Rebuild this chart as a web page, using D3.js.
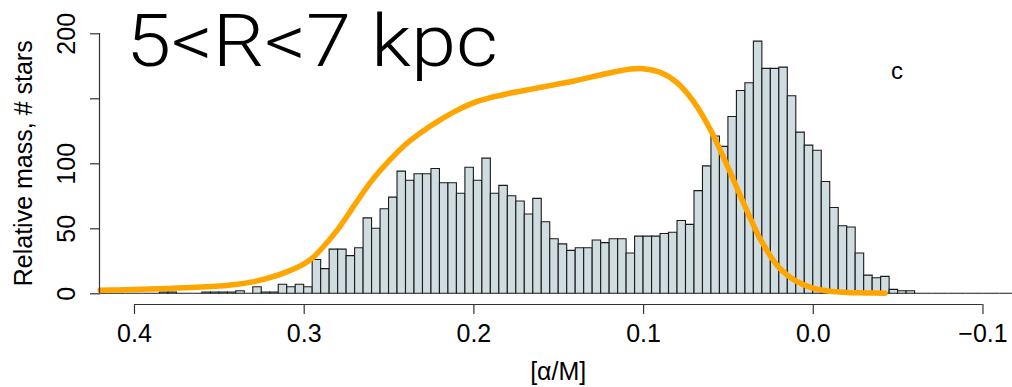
<!DOCTYPE html>
<html>
<head>
<meta charset="utf-8">
<script src="https://cdn.jsdelivr.net/npm/d3@7"></script>
<style>
  html, body { margin: 0; padding: 0; background: #fff; }
  svg { display: block; }
</style>
</head>
<body>
<svg id="chart" width="1012" height="387"></svg>
<script>
// Histogram of [alpha/M] for stars at 5<R<7 kpc, bins of 0.005 running from 0.42 down to -0.12
const binStart = 0.42;
const binWidth = 0.005;
const starCounts = [
  0, 0, 0, 0, 0, 0, 0, 1, 1, 0,
  0, 0, 1, 1, 1, 1, 2, 0, 5, 1,
  1, 7, 5, 7, 5, 26, 19, 34, 34, 29,
  35, 58, 50, 65, 74, 94, 87, 92, 92, 96,
  85, 85, 77, 97, 87, 104, 77, 83, 75, 71,
  61, 73, 55, 42, 38, 33, 35, 35, 41, 39,
  42, 42, 31, 44, 44, 44, 46, 47, 56, 53,
  79, 98, 121, 113, 136, 156, 162, 194, 173, 173,
  174, 152, 124, 114, 110, 86, 66, 52, 51, 31,
  14, 12, 13, 3, 2, 2, 0, 0, 0, 0,
  0, 0, 0, 0, 0, 0, 0, 0
];

// Relative stellar mass curve
const massAlpha = [0.42, 0.41, 0.40, 0.39, 0.38, 0.37, 0.36, 0.35, 0.34, 0.33,
  0.32, 0.31, 0.30, 0.295, 0.29, 0.28, 0.27, 0.26, 0.25, 0.24,
  0.23, 0.22, 0.21, 0.20, 0.19, 0.18, 0.17, 0.16, 0.15, 0.14,
  0.13, 0.12, 0.11, 0.10, 0.09, 0.08, 0.07, 0.06, 0.05, 0.04,
  0.03, 0.02, 0.01, 0.0, -0.01, -0.02, -0.03, -0.0425];
const massValue = [2.3, 2.6, 2.9, 3.3, 3.7, 4.2, 4.8, 5.6, 6.8, 8.8,
  12, 16.5, 22.5, 27, 33.5, 49, 68, 86.5, 101.5, 114.5,
  124.5, 133, 140.5, 146.5, 150.5, 153.5, 156, 158.5, 161, 163.5,
  166.5, 169.5, 172, 172.8, 170, 162, 147, 125, 97, 67,
  39.5, 20, 9.5, 4, 1.6, 0.7, 0.3, 0];

const xTicks = [0.4, 0.3, 0.2, 0.1, 0.0, -0.1];
const xTickLabels = ["0.4", "0.3", "0.2", "0.1", "0.0", "\u22120.1"];
const yTicks = [0, 50, 100, 150, 200];
const yTickLabels = ["0", "50", "100", "", "200"];

const panelTitle = "5<R<7 kpc";
const panelTag = "c";
const xTitle = "[\u03b1/M]";
const yTitle = "Relative mass, # stars";

const baseFont = "'Liberation Sans', Arial, Helvetica, sans-serif";
const svg = d3.select("#chart").style("font-family", baseFont);

const x = d3.scaleLinear().domain([0.42, -0.12]).range([100.06, 1016.4]);
const y = d3.scaleLinear().domain([-8, 208]).range([303.7, 22.9]);

// bars (zero-count bins still leave their outline on the baseline)
const bins = starCounts.map((c, i) => ({
  hi: binStart - i * binWidth,
  lo: binStart - (i + 1) * binWidth,
  count: c
}));

svg.append("g")
  .selectAll("path")
  .data(bins)
  .join("path")
  .attr("d", d => {
    const x0 = x(d.hi), x1 = x(d.lo), y0 = y(0), y1 = y(d.count);
    return `M${x0},${y0}V${y1}H${x1}V${y0}Z`;
  })
  .attr("fill", "#cfdce0")
  .attr("stroke", "#1a1a1a")
  .attr("stroke-width", 1.1);

// mass curve
const curvePts = massAlpha.map((a, i) => [a, massValue[i]]);
svg.append("path")
  .datum(curvePts)
  .attr("d", d3.line().x(d => x(d[0])).y(d => y(d[1])).curve(d3.curveCatmullRom.alpha(0.5)))
  .attr("fill", "none")
  .attr("stroke", "#ffa500")
  .attr("stroke-width", 5.5)
  .attr("stroke-linecap", "round");

// x axis
const xAxis = d3.axisBottom(x)
  .tickValues(xTicks)
  .tickFormat((d, i) => xTickLabels[i])
  .tickSize(10)
  .tickPadding(10)
  .tickSizeOuter(0);
const gx = svg.append("g").attr("transform", "translate(0,304)").call(xAxis);
gx.attr("font-family", null).attr("font-size", null);
gx.select(".domain").attr("d", `M${x(0.4)},0.5H${x(-0.1)}`).attr("stroke", "#333").attr("stroke-width", 1.2);
gx.selectAll(".tick line").attr("stroke", "#333").attr("stroke-width", 1.2);
gx.selectAll(".tick text").style("font-size", "25px").attr("fill", "#000");

// y axis
const yAxis = d3.axisLeft(y)
  .tickValues(yTicks)
  .tickFormat((d, i) => yTickLabels[i])
  .tickSize(10)
  .tickSizeOuter(0);
const gy = svg.append("g").attr("transform", "translate(100,0)").call(yAxis);
gy.attr("font-family", null).attr("font-size", null);
gy.select(".domain").attr("d", `M-0.5,${y(0)}V${y(200)}`).attr("stroke", "#333").attr("stroke-width", 1.2);
gy.selectAll(".tick line").attr("stroke", "#333").attr("stroke-width", 1.2);
gy.selectAll(".tick text")
  .style("font-size", "25px")
  .attr("fill", "#000")
  .attr("x", null).attr("dy", null)
  .attr("text-anchor", "middle")
  .attr("transform", "translate(-25,0) rotate(-90)")
  .attr("y", 0);

// axis titles
svg.append("text")
  .attr("x", (x.range()[0] + x.range()[1]) / 2)
  .attr("y", 380)
  .attr("text-anchor", "middle")
  .style("font-size", "25px")
  .text(xTitle);

svg.append("text")
  .attr("transform", `translate(32,${(y.range()[0] + y.range()[1]) / 2}) rotate(-90)`)
  .attr("text-anchor", "middle")
  .style("font-size", "25px")
  .text(yTitle);

// panel labels
svg.append("text")
  .attr("x", 126)
  .attr("y", 66)
  .style("font-size", "72px")
  .style("font-weight", 300)
  .style("font-family", "Roboto, Lato, 'Open Sans', sans-serif")
  .attr("textLength", 372)
  .attr("lengthAdjust", "spacingAndGlyphs")
  .text(panelTitle);

svg.append("text")
  .attr("x", 897)
  .attr("y", 79)
  .attr("text-anchor", "middle")
  .style("font-size", "24px")
  .text(panelTag);
</script>
</body>
</html>
